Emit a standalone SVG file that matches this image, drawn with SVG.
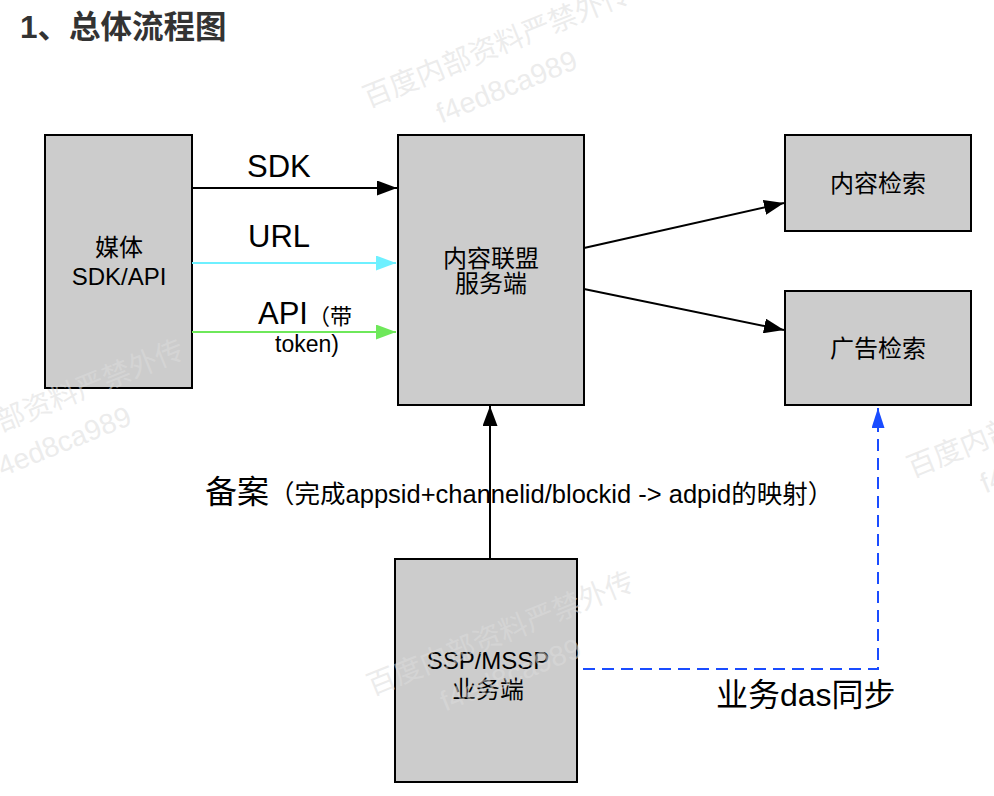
<svg xmlns="http://www.w3.org/2000/svg" width="994" height="796" viewBox="0 0 994 796">
<style>
text{font-family:"Liberation Sans","Noto Sans CJK SC",sans-serif;fill:#000}
.box{fill:#cccccc;stroke:#000;stroke-width:2}
.nt{font-size:24px;text-anchor:middle}
.lbl{font-size:31px}
.ln{fill:none;stroke-width:2}
.wm text{fill:#dcdcdc;fill-opacity:0.55;font-size:28.5px}
</style>
<defs>
<marker id="ab" markerUnits="userSpaceOnUse" markerWidth="20" markerHeight="15" refX="20" refY="7.5" orient="auto"><path d="M0,0 L20,7.5 L0,15 z" fill="#000"/></marker>
<marker id="ac" markerUnits="userSpaceOnUse" markerWidth="20" markerHeight="15" refX="20" refY="7.5" orient="auto"><path d="M0,0 L20,7.5 L0,15 z" fill="#6ef0ff"/></marker>
<marker id="ag" markerUnits="userSpaceOnUse" markerWidth="20" markerHeight="15" refX="20" refY="7.5" orient="auto"><path d="M0,0 L20,7.5 L0,15 z" fill="#6ee85a"/></marker>
<marker id="abl" markerUnits="userSpaceOnUse" markerWidth="20" markerHeight="13" refX="20" refY="6.5" orient="auto"><path d="M0,0 L20,6.5 L0,13 z" fill="#1a4cff"/></marker>
</defs>
<rect width="994" height="796" fill="#fff"/>
<text x="20" y="38" style="font-size:31.5px;font-weight:bold;fill:#333">1、总体流程图</text>

<g id="media">
<rect class="box" x="45" y="135" width="147" height="253"/>
<text class="nt" x="119" y="256">媒体</text>
<text class="nt" x="119" y="285">SDK/API</text>
</g>
<g id="server">
<rect class="box" x="398" y="135" width="186" height="270"/>
<text class="nt" x="491" y="267">内容联盟</text>
<text class="nt" x="491" y="292">服务端</text>
</g>
<g id="content-search">
<rect class="box" x="785" y="135" width="186" height="96"/>
<text class="nt" x="878" y="192">内容检索</text>
</g>
<g id="ad-search">
<rect class="box" x="785" y="291" width="186" height="114"/>
<text class="nt" x="878" y="357">广告检索</text>
</g>
<g id="ssp">
<rect class="box" x="395" y="559" width="182" height="223"/>
<text class="nt" x="488" y="669">SSP/MSSP</text>
<text class="nt" x="488" y="698">业务端</text>
</g>

<g id="connectors">
<path class="ln" d="M192,188 H397" stroke="#000" marker-end="url(#ab)"/>
<path class="ln" d="M192,263 H396" stroke="#6ef0ff" marker-end="url(#ac)"/>
<path class="ln" d="M192,332 H396" stroke="#6ee85a" marker-end="url(#ag)"/>
<path class="ln" d="M584,248 L784,203" stroke="#000" marker-end="url(#ab)"/>
<path class="ln" d="M584,289 L784,330" stroke="#000" marker-end="url(#ab)"/>
<path class="ln" d="M490,558 V406" stroke="#000" marker-end="url(#ab)"/>
<path class="ln" d="M583,669 H878 V428" stroke="#1a4cff" stroke-dasharray="12 7"/>
<path class="ln" d="M878,430 V408" stroke="#1a4cff" marker-end="url(#abl)"/>
<text class="lbl" x="247" y="177">SDK</text>
<text class="lbl" x="248" y="247">URL</text>
<text class="lbl" x="258" y="324">API<tspan style="font-size:22px">（带</tspan></text>
<text x="275" y="352" style="font-size:23px">token)</text>
<text x="205" y="503" style="font-size:32px">备案<tspan style="font-size:25.5px">（完成appsid+channelid/blockid -&gt; adpid的映射）</tspan></text>
<text x="716" y="706" style="font-size:32px">业务das同步</text>
</g>

<g class="wm">
<g transform="translate(368,108) rotate(-22)"><text x="0" y="0">百度内部资料严禁外传</text><text x="62" y="42">f4ed8ca989</text></g>
<g transform="translate(-78,464) rotate(-22)"><text x="0" y="0">百度内部资料严禁外传</text><text x="62" y="42">f4ed8ca989</text></g>
<g transform="translate(372,696) rotate(-22)"><text x="0" y="0">百度内部资料严禁外传</text><text x="62" y="42">f4ed8ca989</text></g>
<g transform="translate(912,478) rotate(-22)"><text x="0" y="0">百度内部资料严禁外传</text><text x="62" y="42">f4ed8ca989</text></g>
</g>
</svg>
